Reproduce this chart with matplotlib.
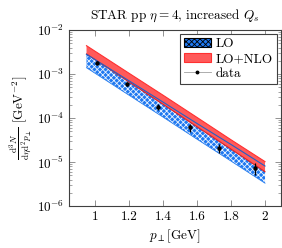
import numpy as np
import matplotlib
matplotlib.use('Agg')
import matplotlib.pyplot as plt
from matplotlib.patches import Patch
from matplotlib.lines import Line2D

plt.rcParams['font.family'] = ['cmr10', 'DejaVu Serif']
plt.rcParams['mathtext.fontset'] = 'cm'
plt.rcParams['axes.formatter.use_mathtext'] = True
plt.rcParams['font.size'] = 9.5
plt.rcParams['hatch.linewidth'] = 0.6

# band edges
x_band = [0.95, 1.2, 1.4, 1.6, 1.8, 2.0]
lo_high = [2.8e-3, 7.0e-4, 2.3e-4, 7.5e-5, 2.5e-5, 8.1e-6]
lo_low = [1.39e-3, 3.3e-4, 1.05e-4, 3.3e-5, 1.05e-5, 3.3e-6]
nlo_high = [4.4e-3, 1.04e-3, 3.3e-4, 1.03e-4, 3.2e-5, 1.02e-5]
nlo_low = [2.85e-3, 6.6e-4, 2.05e-4, 6.3e-5, 1.96e-5, 6.0e-6]

# STAR data
pt = [1.01, 1.19, 1.37, 1.56, 1.73, 1.94]
data = [1.8e-3, 5.9e-4, 1.8e-4, 6.1e-5, 2.1e-5, 7.2e-6]
err = [1.5e-4, 6e-5, 2.5e-5, 1.3e-5, 5e-6, 2.2e-6]

blue = '#1f78f0'
red = '#ff5a5a'

fig = plt.figure(figsize=(2.82, 2.48), dpi=100)
ax = fig.add_axes([69 / 282, 1 - 206 / 248, 212 / 282, 176 / 248])

ax.fill_between(x_band, lo_low, lo_high, facecolor=blue, edgecolor='#e8f2ff',
                hatch='xxxxxx', linewidth=0)
ax.fill_between(x_band, nlo_low, nlo_high, facecolor=red, edgecolor='none',
                linewidth=0)
ax.plot(x_band, nlo_high, color='#ff3030', lw=0.8)
ax.plot(x_band, nlo_low, color='#e02020', lw=0.8)
ax.plot(x_band, lo_high, color='#2060c8', lw=0.8)
ax.plot(x_band, lo_low, color='#2a80f0', lw=0.6)

ax.errorbar(pt, data, yerr=err, fmt='o', color='black', ms=2.2,
            elinewidth=0.9, capsize=0)

ax.set_yscale('log')
ax.set_xlim(0.847, 2.094)
ax.set_ylim(1e-6, 1e-2)
ax.set_xticks([1, 1.2, 1.4, 1.6, 1.8, 2])
ax.set_xticklabels(['1', '1.2', '1.4', '1.6', '1.8', '2'])
ax.tick_params(which='both', direction='in', top=True, right=True,
               color='#808080', labelsize=9.5)
ax.tick_params(which='major', length=4, width=0.6)
ax.tick_params(which='minor', length=2, width=0.5)
for s in ax.spines.values():
    s.set_linewidth(0.8)
    s.set_color('#404040')

ax.set_title(r'STAR pp $\eta = 4$, increased $Q_s$', fontsize=9.5, pad=8)
ax.set_xlabel(r'$p_\perp$[GeV]', fontsize=9.5, labelpad=3)
ax.set_ylabel(r'$\frac{\mathrm{d}^3N}{\mathrm{d}\eta\mathrm{d}^2p_\perp}$ [GeV$^{-2}$]',
              fontsize=9.5, labelpad=2)

handles = [
    Patch(facecolor=blue, edgecolor='black', hatch='xxxxxx', linewidth=0.8),
    Patch(facecolor=red, edgecolor='#ff3030', linewidth=0.8),
    Line2D([], [], color='#a0a0a0', lw=0.6, marker='o', ms=1.8,
           markerfacecolor='black', markeredgecolor='black'),
]
leg = ax.legend(handles, ['LO', 'LO+NLO', 'data'], loc='upper right',
                fontsize=9.5, fancybox=False, framealpha=1, edgecolor='#404040',
                borderaxespad=0.3, handlelength=2.0, handletextpad=0.4,
                labelspacing=0.2, borderpad=0.3)
leg.get_frame().set_linewidth(0.8)

fig.savefig('out.png', dpi=100)
